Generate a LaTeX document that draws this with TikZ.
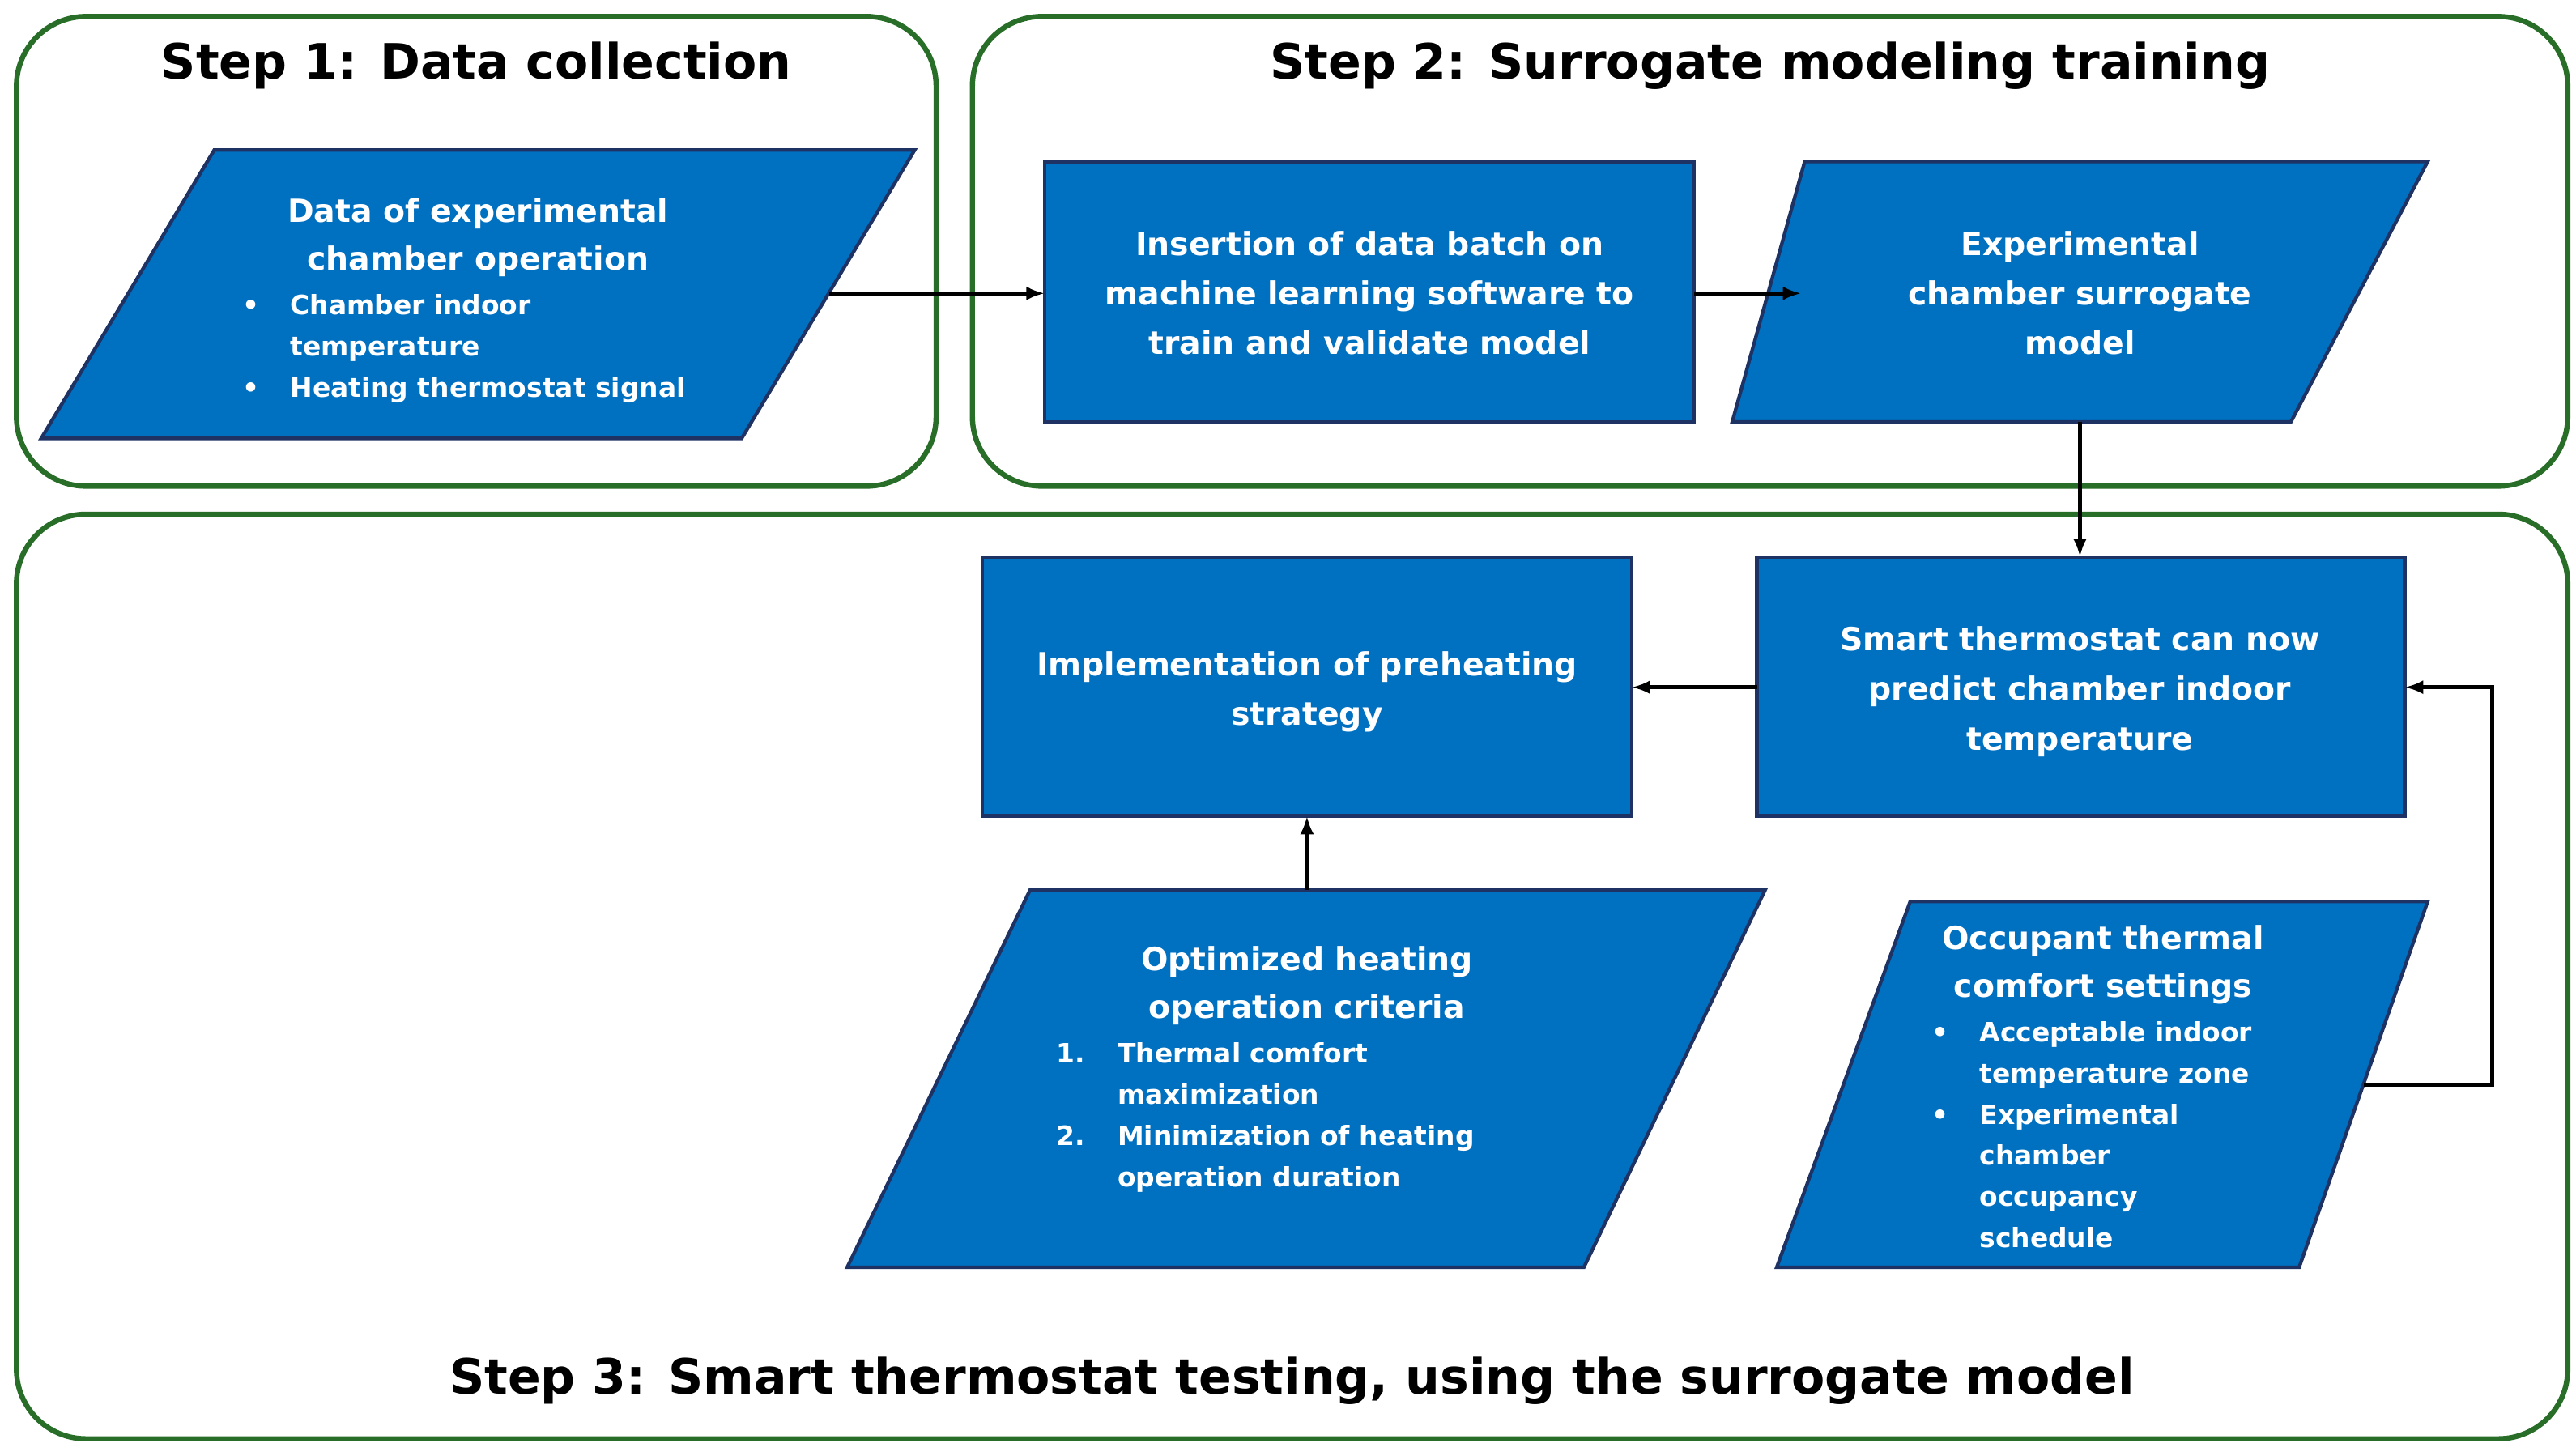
\documentclass[tikz,border=0pt]{standalone}
\usepackage{fontspec}
\usetikzlibrary{arrows.meta}
\setmainfont{DejaVu Sans}
\definecolor{fillb}{RGB}{0,112,192}
\definecolor{edgeb}{RGB}{30,50,100}
\definecolor{grn}{RGB}{40,110,40}
\begin{document}
\begin{tikzpicture}[x=0.05cm,y=-0.05cm,
 grp/.style={draw=grn, line width=4.5pt, rounded corners=60pt},
 blk/.style={fill=fillb, draw=edgeb, line width=3pt},
 arr/.style={-{Latex[length=16pt,width=12pt]}, line width=3.5pt},
 ttl/.style={font=\bfseries\fontsize{42}{48}\selectfont, text=black},
 bt/.style={font=\bfseries\fontsize{27.5}{32}\selectfont, text=white, anchor=base, inner sep=0},
 lt/.style={font=\bfseries\fontsize{23}{27}\selectfont, text=white, anchor=base west, inner sep=0}]
\useasboundingbox (0,0) rectangle (1563,883);
\fill[white] (0,0) rectangle (1563,883);
% groups
\draw[grp] (10,10) rectangle (568,295);
\draw[grp] (590,10) rectangle (1558,295);
\draw[grp] (10,312) rectangle (1558,873);
\node[ttl] (t1) at (289,40) {Step 1: Data collection};
\node[ttl] (t2) at (1074,40) {Step 2: Surrogate modeling training};
\node[ttl] (t3) at (784,838) {Step 3: Smart thermostat testing, using the surrogate model};
% shapes
\draw[blk] (130,91) -- (555,91) -- (450,266) -- (25,266) -- cycle;
\draw[blk] (634,98) rectangle (1028,256);
\draw[blk] (1095,98) -- (1473,98) -- (1390,256) -- (1051,256) -- cycle;
\draw[blk] (1066,338) rectangle (1459,495);
\draw[blk] (596,338) rectangle (990,495);
\draw[blk] (625,540) -- (1071,540) -- (961,769) -- (514,769) -- cycle;
\draw[blk] (1159,547) -- (1473,547) -- (1395,769) -- (1078,769) -- cycle;
% coordinates
\coordinate (p1r) at (503,178); \coordinate (b2l) at (634,178);
\coordinate (b2r) at (1028,178); \coordinate (p3l) at (1093,178);
\coordinate (p3b) at (1262,256); \coordinate (smt) at (1262,338);
\coordinate (sml) at (1066,417); \coordinate (imr) at (990,417);
\coordinate (opt) at (793,540); \coordinate (imb) at (793,495);
\coordinate (ocr) at (1434,658); \coordinate (smr) at (1459,417);
\draw[arr] (p1r) -- (b2l);
\draw[arr] (b2r) -- (p3l);
\draw[arr] (p3b) -- (smt);
\draw[arr] (sml) -- (imr);
\draw[arr] (opt) -- (imb);
\draw[arr] (ocr) -- (1512,658) |- (smr);
% texts
\node[bt] (a1) at (290,135) {Data of experimental};
\node[bt] (a2) at (290,164) {chamber operation};
\node[lt] (a3) at (147,191) {•}; \node[lt] (a4) at (176,191) {Chamber indoor};
\node[lt] (a5) at (176,216) {temperature};
\node[lt] (a6) at (147,241) {•}; \node[lt] (a7) at (176,241) {Heating thermostat signal};
\node[bt] (b1) at (831,155) {Insertion of data batch on};
\node[bt] (b2) at (831,185) {machine learning software to};
\node[bt] (b3) at (831,215) {train and validate model};
\node[bt] (c1) at (1262,155) {Experimental};
\node[bt] (c2) at (1262,185) {chamber surrogate};
\node[bt] (c3) at (1262,215) {model};
\node[bt] (d1) at (1262,395) {Smart thermostat can now};
\node[bt] (d2) at (1262,425) {predict chamber indoor};
\node[bt] (d3) at (1262,455) {temperature};
\node[bt] (e1) at (793,410) {Implementation of preheating};
\node[bt] (e2) at (793,440) {strategy};
\node[bt] (f1) at (793,589) {Optimized heating};
\node[bt] (f2) at (793,618) {operation criteria};
\node[lt] (f3) at (641,645) {1.}; \node[lt] (f4) at (678,645) {Thermal comfort};
\node[lt] (f5) at (678,670) {maximization};
\node[lt] (f6) at (641,695) {2.}; \node[lt] (f7) at (678,695) {Minimization of heating};
\node[lt] (f8) at (678,720) {operation duration};
\node[bt] (g1) at (1276,576) {Occupant thermal};
\node[bt] (g2) at (1276,605) {comfort settings};
\node[lt] (g3) at (1172,632) {•}; \node[lt] (g4) at (1201,632) {Acceptable indoor};
\node[lt] (g5) at (1201,657) {temperature zone};
\node[lt] (g6) at (1172,682) {•}; \node[lt] (g7) at (1201,682) {Experimental};
\node[lt] (g8) at (1201,707) {chamber};
\node[lt] (g9) at (1201,732) {occupancy};
\node[lt] (g10) at (1201,757) {schedule};
\end{tikzpicture}
\end{document}
